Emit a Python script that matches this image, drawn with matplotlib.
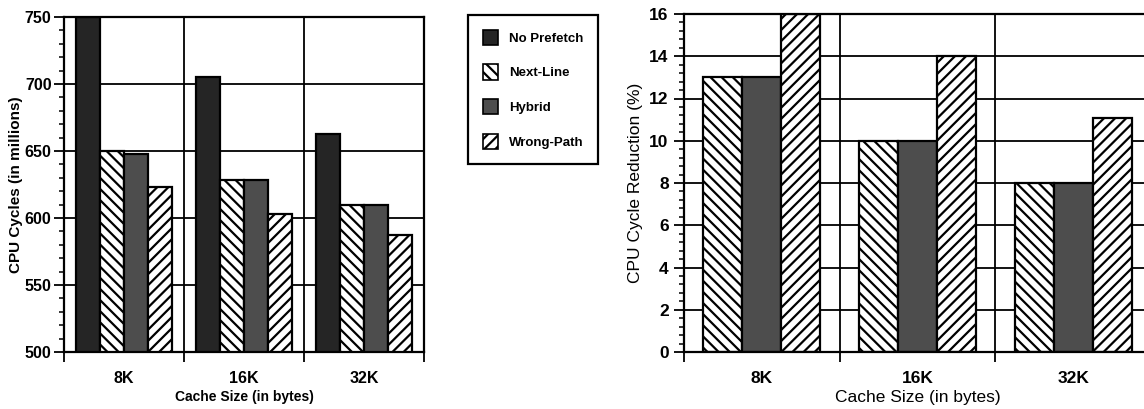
import matplotlib
matplotlib.use("Agg")
import matplotlib.pyplot as plt
import numpy as np
from matplotlib.patches import Patch
from matplotlib.ticker import MultipleLocator, FixedLocator

plt.rcParams['hatch.linewidth'] = 1.6

cache_sizes = ["8K", "16K", "32K"]
series_left = ["No Prefetch", "Next-Line", "Hybrid", "Wrong-Path"]
cycles_no_prefetch = [750, 705, 663]
cycles_next_line = [650, 628, 610]
cycles_hybrid = [648, 628, 610]
cycles_wrong_path = [623, 603, 587]

series_right = ["Next-Line", "Hybrid", "Wrong-Path"]
reduction_next_line = [13, 10, 8]
reduction_hybrid = [13, 10, 8]
reduction_wrong_path = [16, 14, 11.1]

styles = {
    "No Prefetch": dict(facecolor="#252525", hatch=None),
    "Next-Line": dict(facecolor="white", hatch="\\\\\\"),
    "Hybrid": dict(facecolor="#4d4d4d", hatch=None),
    "Wrong-Path": dict(facecolor="white", hatch="///"),
}

NARROW = ['Liberation Sans Narrow', 'Liberation Sans', 'DejaVu Sans']
SANS = ['Liberation Sans', 'DejaVu Sans']

fig = plt.figure(figsize=(11.44, 4.09), dpi=100)
axL = fig.add_axes([64/1144, 57/409, 360/1144, 335/409])
axR = fig.add_axes([684/1144, 57/409, 467/1144, 338/409])

def draw(ax, names, values, width):
    n = len(names)
    x = np.arange(len(cache_sizes)) + 0.5
    for i, (name, vals) in enumerate(zip(names, values)):
        st = styles[name]
        off = (i - (n - 1) / 2) * width
        ax.bar(x + off, vals, width, facecolor=st["facecolor"], hatch=st["hatch"],
               edgecolor="black", linewidth=1.6, zorder=2)
    ax.set_xlim(0, len(cache_sizes))
    ax.xaxis.set_major_locator(FixedLocator(np.arange(len(cache_sizes) + 1)))
    ax.xaxis.set_minor_locator(FixedLocator(x))
    ax.set_xticklabels([], minor=False)
    ax.set_xticklabels(cache_sizes, minor=True)
    ax.tick_params(axis='x', which='major', length=7, width=1.3, direction='out')
    ax.tick_params(axis='x', which='minor', length=0)
    ax.tick_params(axis='y', which='major', length=7, width=1.3, direction='out')
    ax.tick_params(axis='y', which='minor', length=3.5, width=1.1, direction='out')
    ax.grid(True, which='major', axis='both', color='black', linewidth=1.3)
    ax.set_axisbelow(True)
    for s in ax.spines.values():
        s.set_linewidth(1.6)

draw(axL, series_left, [cycles_no_prefetch, cycles_next_line, cycles_hybrid, cycles_wrong_path], 0.2)
axL.set_ylim(500, 750)
axL.yaxis.set_major_locator(MultipleLocator(50))
axL.yaxis.set_minor_locator(MultipleLocator(10))
axL.tick_params(axis='y', pad=2)
axL.tick_params(axis='x', which='minor', pad=14)
for lab in axL.get_yticklabels() + axL.get_xticklabels(minor=True):
    lab.set_family(NARROW); lab.set_fontweight('bold'); lab.set_fontsize(11.5)
axL.set_ylabel("CPU Cycles (in millions)", family=NARROW, fontweight='bold', fontsize=11)
axL.yaxis.set_label_coords(-0.115, 0.5)
axL.set_xlabel("Cache Size (in bytes)", family=NARROW, fontweight='bold', fontsize=10)
axL.xaxis.set_label_coords(0.5, -0.113)

draw(axR, series_right, [reduction_next_line, reduction_hybrid, reduction_wrong_path], 0.25)
axR.set_ylim(0, 16)
axR.yaxis.set_major_locator(MultipleLocator(2))
axR.yaxis.set_minor_locator(MultipleLocator(0.4))
axR.tick_params(axis='y', pad=4)
axR.tick_params(axis='x', which='minor', pad=14)
axR.spines['right'].set_visible(False)
for lab in axR.get_yticklabels() + axR.get_xticklabels(minor=True):
    lab.set_family(SANS); lab.set_fontweight('bold'); lab.set_fontsize(12.5)
axR.set_ylabel("CPU Cycle Reduction (%)", family=SANS, fontsize=12.5)
axR.yaxis.set_label_coords(-0.088, 0.5)
axR.set_xlabel("Cache Size (in bytes)", family=SANS, fontsize=12.5)
axR.xaxis.set_label_coords(0.5, -0.113)

handles = [Patch(facecolor=styles[n]["facecolor"], hatch=styles[n]["hatch"],
                 edgecolor="black", linewidth=1.2) for n in series_left]
leg = fig.legend(handles, series_left, loc='upper left', bbox_to_anchor=(468/1144, 1 - 15/409),
                 frameon=True, fancybox=False, edgecolor='black', framealpha=1,
                 prop=dict(family=NARROW, weight='bold', size=9.5),
                 handlelength=1.2, handleheight=1.4, labelspacing=1.48,
                 handletextpad=0.8, borderpad=1.1, borderaxespad=0)
leg.get_frame().set_linewidth(1.6)

fig.savefig("out.png", dpi=100)
